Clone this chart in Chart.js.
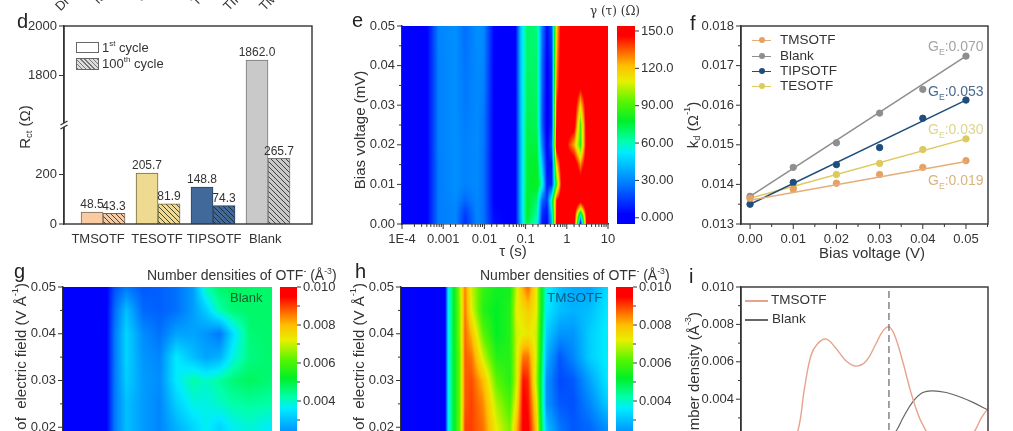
<!DOCTYPE html>
<html>
<head>
<meta charset="utf-8">
<script src="https://cdn.jsdelivr.net/npm/chart.js@4/dist/chart.umd.js"></script>
<style>
html, body { margin: 0; background: #fff; }
body { position: relative; width: 1013px; height: 431px; overflow: hidden; font-family: "Liberation Sans", Arial, sans-serif; color: #333; }
canvas { position: absolute; }
.t { position: absolute; white-space: nowrap; line-height: 1; }
.t sup, .t sub { font-size: 62%; line-height: 0; }
.sw { position: absolute; box-sizing: border-box; }
</style>
</head>
<body>
<script>
// panel d
const groups = ['TMSOTF', 'TESOTF', 'TIPSOTF', 'Blank'];
const groupTickAt = [-0.09, 0.98, 2.02, 2.95]; // labels sit a little off the bar groups in the original
const firstCycle = [48.5, 205.7, 148.8, 1862.0];
const hundredthCycle = [43.3, 81.9, 74.3, 265.7];
const barFills = ['#F9CBA3', '#EFDA92', '#41699A', '#C9C9C9'];
const barEdges = ['#7a6a55', '#6f6a4a', '#2c4560', '#777777'];

// panel e
const taus = [1e-4, 4e-4, 7.8e-4, 2e-3, 3.4e-3, 6.6e-3, 9.5e-3, 0.017, 0.056, 0.075, 0.108, 0.19, 0.25, 0.33, 0.43, 0.57, 0.78, 1.5, 2.15, 3.1, 10];
const biasRows = [0, 0.002, 0.004, 0.006, 0.01, 0.015, 0.02, 0.025, 0.03, 0.035, 0.04, 0.05];
const gammaGrid = [
  [0, 2, 28, 30, 12, 30, 26, 6, 0, 38, 75, 55, 8, 3, 40, 155, 160, 160, 5, 160, 160],
  [0, 2, 28, 30, 14, 30, 26, 5, 0, 40, 78, 62, 12, 5, 45, 150, 160, 160, 50, 160, 160],
  [0, 2, 28, 30, 18, 30, 26, 4, 0, 40, 78, 66, 16, 8, 55, 148, 160, 160, 115, 160, 160],
  [0, 2, 28, 31, 24, 30, 26, 3, 0, 40, 78, 70, 24, 14, 65, 145, 160, 160, 155, 160, 160],
  [0, 2, 28, 32, 29, 31, 26, 3, 0, 40, 76, 80, 60, 8, 10, 90, 160, 160, 160, 160, 160],
  [0, 2, 28, 32, 29, 31, 26, 3, 0, 40, 76, 78, 45, 5, 6, 120, 160, 160, 130, 160, 160],
  [0, 2, 29, 32, 29, 31, 27, 3, 0, 40, 75, 75, 30, 2, 20, 160, 160, 125, 85, 160, 160],
  [0, 2, 29, 32, 28, 31, 27, 3, 0, 41, 74, 72, 22, 0, 10, 150, 160, 155, 90, 160, 160],
  [0, 2, 29, 32, 27, 31, 28, 3, 0, 41, 72, 72, 22, 0, 10, 145, 160, 160, 118, 160, 160],
  [0, 2, 29, 32, 27, 31, 29, 3, 0, 42, 72, 70, 24, 1, 11, 135, 160, 160, 152, 160, 160],
  [0, 2, 29, 32, 26, 31, 30, 3, 0, 42, 70, 70, 24, 2, 12, 130, 160, 160, 160, 160, 160],
  [0, 2, 30, 32, 25, 32, 31, 4, 0, 43, 70, 68, 28, 5, 18, 120, 158, 160, 160, 160, 160]
];
const gammaBar = [-5, 154];
const gammaTicks = [0, 30, 60, 90, 120, 150];
const gammaTickText = ['0.000', '30.00', '60.00', '90.00', '120.0', '150.0'];

// panel f
const biasV = [0, 0.01, 0.02, 0.03, 0.04, 0.05];
const kdTmsotf = [0.01365, 0.01388, 0.01403, 0.01425, 0.01443, 0.0146];
const kdBlank = [0.0137, 0.01443, 0.01505, 0.0158, 0.0164, 0.01724];
const kdTipsotf = [0.0135, 0.01405, 0.0145, 0.01493, 0.01567, 0.01613];
const kdTesotf = [0.01365, 0.01393, 0.01425, 0.01453, 0.01488, 0.01515];
const fitEnds = { TMSOTF: [0.0136, 0.01458], Blank: [0.0137, 0.01724], TIPSOTF: [0.0135, 0.01613], TESOTF: [0.01365, 0.01515] };

// panels g and h, densities in 1e-3 per cubic angstrom
const fieldRows = [0.01, 0.02, 0.025, 0.03, 0.035, 0.04, 0.045, 0.05];
const blankX = [0, 2.07, 2.47, 3.03, 3.83, 4.63, 5.42, 6.22, 6.86, 7.5, 8.13, 8.93, 10];
const blankGrid = [
  [0.3, 0.4, 2, 3.1, 2.6, 2.3, 2.8, 3.2, 3.6, 3.4, 3.6, 3.8, 3.5],
  [0.3, 0.4, 2, 3.0, 2.5, 2.2, 2.8, 3.3, 3.7, 3.3, 3.7, 3.9, 3.6],
  [0.3, 0.4, 2, 3.0, 2.5, 2.2, 3.2, 3.8, 3.8, 4.0, 4.2, 4.3, 4.2],
  [0.3, 0.4, 2, 3.2, 2.5, 2.3, 3.6, 4.2, 4.0, 4.3, 4.6, 4.8, 4.6],
  [0.3, 0.4, 2, 3.3, 2.4, 2.2, 3.6, 3.0, 2.6, 2.8, 3.8, 4.5, 4.7],
  [0.3, 0.4, 2, 3.3, 2.3, 1.9, 2.6, 2.6, 2.4, 2.0, 3.4, 4.6, 4.7],
  [0.3, 0.4, 1.8, 3.0, 1.8, 1.7, 1.9, 2.5, 3.2, 4.2, 4.6, 4.7, 4.7],
  [0.3, 0.4, 1.5, 2.0, 1.6, 1.7, 1.9, 2.5, 4.2, 4.7, 4.8, 4.7, 4.7]
];
const tmsotfX = [0, 2.12, 2.28, 2.52, 2.85, 3.09, 3.41, 3.97, 4.61, 5.26, 5.58, 5.9, 6.14, 6.54, 6.78, 7.03, 7.67, 8.31, 9.12, 10];
const tmsotfGrid = [
  [0.2, 0.2, 3.6, 5, 6.4, 9, 9, 8.6, 7.4, 6.6, 8, 9.6, 9.6, 8, 5, 3, 2, 1.6, 1.6, 2.2],
  [0.2, 0.2, 3.6, 5, 6.4, 9, 9, 8.6, 7.2, 6.4, 8, 9.6, 9.6, 7.8, 5, 3, 2, 1.6, 1.8, 2.4],
  [0.2, 0.2, 3.6, 5, 6.4, 8.8, 9, 8.4, 6.8, 6, 7.4, 9.6, 9.4, 7.4, 4.8, 2.4, 1.6, 1.5, 2.2, 3.2],
  [0.2, 0.2, 3.6, 5, 6.4, 8.8, 8.9, 8, 6.2, 5.6, 7, 9.4, 9.2, 6.8, 4.8, 2.4, 1.4, 1.6, 2.6, 3.6],
  [0.2, 0.2, 3.6, 5, 6.4, 8.8, 8.6, 7, 5.6, 5.6, 7, 8.6, 8.6, 7, 5, 2.8, 1.6, 2.2, 3.2, 3.7],
  [0.2, 0.2, 3.6, 5, 6.6, 8.7, 8, 6.2, 5.2, 5.6, 7, 7.2, 7.4, 7, 5.2, 3.2, 2.4, 2.4, 3.2, 3.7],
  [0.2, 0.2, 3.6, 5, 6.6, 8.6, 7.2, 5.6, 5.2, 5.6, 7.2, 7.5, 7.8, 7.2, 5.4, 3.6, 3, 2.8, 3, 3.6],
  [0.2, 0.2, 3.6, 5, 6.8, 8.5, 7, 5.8, 5.4, 5.4, 7, 8.2, 8.7, 7.2, 5.4, 3.8, 3, 2.7, 2.6, 3.4]
];
const densityTicks = [0, 0.002, 0.004, 0.006, 0.008, 0.01];

// panel i
const tmsotfLineX = [1.28, 1.8, 2.3, 2.57, 2.84, 3.11, 3.45, 3.85, 4.26, 4.66, 5.07, 5.47, 5.74, 5.99, 6.22, 6.55, 6.89, 7.23, 7.5, 8, 8.7, 9.46, 9.73, 10];
const tmsotfLine = [0, 0.0008, 0.0023, 0.00458, 0.00636, 0.00698, 0.00721, 0.00671, 0.00604, 0.00577, 0.00604, 0.00698, 0.00764, 0.00787, 0.00742, 0.006, 0.00431, 0.00298, 0.0023, 0.0012, 0.0011, 0.0023, 0.003, 0.0035];
const blankLineX = [4.8, 5.6, 6.28, 6.55, 6.96, 7.36, 7.77, 8.31, 8.85, 9.39, 10];
const blankLine = [0.0005, 0.0012, 0.0023, 0.00298, 0.00387, 0.00436, 0.00445, 0.00436, 0.00413, 0.00383, 0.00342];
const peakX = 5.99;

const FONT = { family: '"Liberation Sans", Arial, sans-serif', size: 13 };
const INK = '#333';
Chart.defaults.color = INK;
Chart.defaults.font.family = FONT.family;
Chart.defaults.font.size = FONT.size;
Chart.defaults.animation = false;

// rainbow used by the three maps and their bars
const ramp = [
  [0, 0, 0, 255], [0.05, 0, 0, 255], [0.2, 0, 120, 255], [0.36, 0, 235, 255], [0.42, 0, 255, 170],
  [0.52, 0, 240, 40], [0.62, 90, 245, 0], [0.72, 230, 240, 0], [0.8, 255, 190, 0], [0.88, 255, 90, 0], [0.95, 255, 0, 0], [1, 255, 0, 0]
];
function rampColor(t) {
  t = Math.min(1, Math.max(0, t));
  let i = 0;
  while (i < ramp.length - 2 && ramp[i + 1][0] < t) i++;
  const a = ramp[i], b = ramp[i + 1], f = (t - a[0]) / (b[0] - a[0]);
  return [1, 2, 3].map(k => a[k] + (b[k] - a[k]) * f);
}

function locate(list, v) {
  let i = 0;
  while (i < list.length - 2 && list[i + 1] < v) i++;
  return [i, Math.min(1, Math.max(0, (v - list[i]) / (list[i + 1] - list[i])))];
}

// paints the grid under the datasets, every pixel looked up through the chart's scales
function heatPlugin(xs, ys, grid, vmin, vmax) {
  return {
    id: 'heat',
    beforeDatasetsDraw(chart) {
      const { left, top, width, height } = chart.chartArea;
      const sx = chart.scales.x, sy = chart.scales.y;
      const isLog = sx.type === 'logarithmic';
      const lx = isLog ? xs.map(Math.log10) : xs;
      const w = Math.round(width), h = Math.round(height);
      const off = document.createElement('canvas');
      off.width = w; off.height = h;
      const octx = off.getContext('2d');
      const img = octx.createImageData(w, h);
      for (let py = 0; py < h; py++) {
        const [r, fy] = locate(ys, sy.getValueForPixel(top + py + 0.5));
        for (let px = 0; px < w; px++) {
          const xv = sx.getValueForPixel(left + px + 0.5);
          const [c, fx] = locate(lx, isLog ? Math.log10(xv) : xv);
          const low = grid[r][c] * (1 - fx) + grid[r][c + 1] * fx;
          const high = grid[r + 1][c] * (1 - fx) + grid[r + 1][c + 1] * fx;
          const rgb = rampColor((low * (1 - fy) + high * fy - vmin) / (vmax - vmin));
          const o = (py * w + px) * 4;
          img.data[o] = rgb[0]; img.data[o + 1] = rgb[1]; img.data[o + 2] = rgb[2]; img.data[o + 3] = 255;
        }
      }
      octx.putImageData(img, 0, 0);
      chart.ctx.drawImage(off, left, top, width, height);
    }
  };
}

// chart.js has one tick length per axis, so long and short marks are stroked here
function tickMarks(axes, majorLen) {
  const longLen = majorLen || 5;
  return {
    id: 'tickMarks',
    afterDraw(chart) {
      const ctx = chart.ctx;
      ctx.save();
      ctx.strokeStyle = INK;
      ctx.lineWidth = 1;
      Object.keys(axes).forEach(id => {
        const s = chart.scales[id], isMajor = axes[id];
        s.ticks.forEach((tick, i) => {
          const len = isMajor(tick.value) ? longLen : 3;
          const p = s.getPixelForTick(i);
          ctx.beginPath();
          if (id === 'x') { ctx.moveTo(p, s.top); ctx.lineTo(p, s.top + len); }
          else if (s.position === 'right') { ctx.moveTo(s.left, p); ctx.lineTo(s.left + len, p); }
          else { ctx.moveTo(s.right, p); ctx.lineTo(s.right - len, p); }
          ctx.stroke();
        });
      });
      ctx.restore();
    }
  };
}

const frame = {
  id: 'frame',
  afterDatasetsDraw(chart) {
    const a = chart.chartArea, ctx = chart.ctx;
    ctx.save();
    ctx.strokeStyle = INK;
    ctx.lineWidth = 1.4;
    ctx.strokeRect(a.left, a.top, a.width, a.height);
    ctx.restore();
  }
};

const near = list => v => list.some(m => Math.abs(m - v) < 1e-9);
const fixed = list => s => { s.ticks = list.map(value => ({ value })); };

// plot box is given in page pixels, the canvas is grown around it to hold the tick labels.
// top and bottom margins must beat half a label plus ticks.padding or chart.js insets the plot
function panel(box, config, yRight) {
  const m = yRight ? { l: 6, t: 24, r: 60, b: 24 } : { l: 60, t: 24, r: 30, b: box.noX ? 24 : 30 };
  const cv = document.createElement('canvas');
  const W = box.r - box.l + m.l + m.r, H = box.b - box.t + m.t + m.b;
  cv.style.left = (box.l - m.l) + 'px';
  cv.style.top = (box.t - m.t) + 'px';
  cv.style.width = W + 'px';
  cv.style.height = H + 'px';
  cv.width = W; cv.height = H;
  document.body.appendChild(cv);
  const o = config.options;
  o.responsive = false;
  o.plugins = Object.assign({ legend: { display: false }, tooltip: { enabled: false } }, o.plugins);
  o.layout = { padding: { left: yRight ? m.l : 0, top: m.t, right: yRight ? 0 : m.r, bottom: box.noX ? m.b : 0 } };
  o.scales.y.afterFit = s => { s.width = yRight ? m.r : m.l; };
  if (!box.noX) o.scales.x.afterFit = s => { s.height = m.b; };
  return new Chart(cv, config);
}

function yAxis(min, max, list, majors, fmt, extra) {
  return Object.assign({
    min, max,
    afterBuildTicks: fixed(list),
    grid: { display: false, drawTicks: false },
    border: { display: true, color: INK, width: 1.4 },
    ticks: { autoSkip: false, padding: 7, color: INK, callback: v => near(majors)(v) ? fmt(v) : '' }
  }, extra);
}

// panel d, value axis has a break: the stretch 400 to 1600 is cut out
const cut = v => v <= 400 ? v : v - 1200;
const uncut = v => v <= 400 ? v : v + 1200;
function hatch(base) {
  const p = document.createElement('canvas');
  p.width = p.height = 5;
  const c = p.getContext('2d');
  c.fillStyle = base;
  c.fillRect(0, 0, 5, 5);
  c.strokeStyle = 'rgba(30,30,30,0.8)';
  c.lineWidth = 1;
  c.beginPath();
  c.moveTo(-1, -1); c.lineTo(6, 6);
  c.moveTo(-1, 4); c.lineTo(1, 6);
  c.moveTo(4, -1); c.lineTo(6, 1);
  c.stroke();
  return document.createElement('canvas').getContext('2d').createPattern(p, 'repeat');
}
const barLabels = {
  id: 'barLabels',
  afterDatasetsDraw(chart) {
    const ctx = chart.ctx;
    ctx.save();
    ctx.font = '12px ' + FONT.family;
    ctx.fillStyle = INK;
    ctx.textAlign = 'center';
    ctx.textBaseline = 'bottom';
    chart.data.datasets.forEach((ds, d) => {
      chart.getDatasetMeta(d).data.forEach((bar, i) => {
        ctx.fillText(ds.values[i].toFixed(1), bar.x, bar.y - 1);
      });
    });
    ctx.restore();
  }
};
const axisBreak = {
  id: 'axisBreak',
  afterDraw(chart) {
    const s = chart.scales.y, y = s.getPixelForValue(400), x = s.right, ctx = chart.ctx;
    ctx.save();
    ctx.fillStyle = '#fff';
    ctx.fillRect(x - 3, y - 2, 6, 4);
    ctx.strokeStyle = INK;
    ctx.lineWidth = 1.2;
    [-2, 2].forEach(dy => {
      ctx.beginPath();
      ctx.moveTo(x - 3.5, y + dy + 2);
      ctx.lineTo(x + 3.5, y + dy - 2);
      ctx.stroke();
    });
    ctx.restore();
  }
};
const toBars = (values, key) => ({
  label: key,
  values,
  data: values.map((v, i) => ({ x: i, y: cut(v) })),
  barThickness: 22,
  borderWidth: 1
});
panel({ l: 64, t: 26, r: 312, b: 224 }, {
  type: 'bar',
  data: {
    datasets: [
      Object.assign(toBars(firstCycle, '1st cycle'), { backgroundColor: barFills, borderColor: barEdges }),
      Object.assign(toBars(hundredthCycle, '100th cycle'), { backgroundColor: barFills.map(hatch), borderColor: barEdges })
    ]
  },
  options: {
    scales: {
      x: {
        type: 'linear', min: -0.71, max: 3.8, offset: false,
        afterBuildTicks: fixed(groupTickAt),
        grid: { display: false, drawTicks: false, offset: false },
        border: { display: false },
        ticks: { autoSkip: false, maxRotation: 0, padding: 8, color: INK, callback: v => groups[groupTickAt.indexOf(v)] }
      },
      y: yAxis(0, 800, [0, 200, 600, 800], [0, 200, 600, 800], v => String(uncut(v)))
    }
  },
  plugins: [frame, barLabels, axisBreak, tickMarks({ y: () => true })]
});

// panel e
const eDecades = { '-4': '1E-4', '-3': '0.001', '-2': '0.01', '-1': '0.1', '0': '1', '1': '10' };
const isDecade = v => Math.abs(Math.log10(v) - Math.round(Math.log10(v))) < 1e-6;
panel({ l: 402, t: 26, r: 608, b: 224 }, {
  type: 'scatter',
  data: { datasets: [{ data: [], pointRadius: 0 }] },
  options: {
    scales: {
      x: {
        type: 'logarithmic', min: 1e-4, max: 10,
        grid: { display: false, drawTicks: false },
        border: { display: true, color: INK, width: 1.4 },
        ticks: { autoSkip: false, maxRotation: 0, padding: 8, color: INK, callback: v => isDecade(v) ? eDecades[Math.round(Math.log10(v))] : '' }
      },
      y: yAxis(0, 0.05,
        [0, 0.005, 0.01, 0.015, 0.02, 0.025, 0.03, 0.035, 0.04, 0.045, 0.05],
        [0, 0.01, 0.02, 0.03, 0.04, 0.05], v => v.toFixed(2))
    }
  },
  plugins: [heatPlugin(taus, biasRows, gammaGrid, -5, 154), tickMarks({ x: isDecade, y: near([0, 0.01, 0.02, 0.03, 0.04, 0.05]) })]
});

// colour bars
function colorBar(box, low, high, list, majors, fmt) {
  const y = yAxis(low, high, list, majors, fmt, { position: 'right', border: { display: false } });
  y.ticks.padding = 6;
  panel(Object.assign({ noX: true }, box), {
    type: 'scatter',
    data: { datasets: [{ data: [], pointRadius: 0 }] },
    options: { scales: { x: { display: false, min: 0, max: 1 }, y } },
    plugins: [heatPlugin([0, 1], [low, high], [[low, low], [high, high]], low, high), tickMarks({ y: near(majors) }, 4)]
  }, true);
}
colorBar({ l: 617, t: 26, r: 635, b: 224 }, gammaBar[0], gammaBar[1], gammaTicks, gammaTicks,
  v => gammaTickText[gammaTicks.indexOf(v)]);

const densityMinor = [0, 0.001, 0.002, 0.003, 0.004, 0.005, 0.006, 0.007, 0.008, 0.009, 0.01];
colorBar({ l: 280, t: 287, r: 297, b: 477 }, 0, 0.01, densityMinor, densityTicks, v => v.toFixed(3));
colorBar({ l: 616, t: 287, r: 633, b: 477 }, 0, 0.01, densityMinor, densityTicks, v => v.toFixed(3));

// panels g and h, bottom of both runs past the window
const fieldTicks = [0.01, 0.015, 0.02, 0.025, 0.03, 0.035, 0.04, 0.045, 0.05];
const fieldMajor = [0.01, 0.02, 0.03, 0.04, 0.05];
function densityMap(box, xs, grid) {
  panel(box, {
    type: 'scatter',
    data: { datasets: [{ data: [], pointRadius: 0 }] },
    options: {
      scales: {
        x: { min: 0, max: 10, display: false },
        y: yAxis(0.01, 0.05, fieldTicks, fieldMajor, v => v.toFixed(2))
      }
    },
    plugins: [heatPlugin(xs, fieldRows, grid, 0, 10), tickMarks({ y: near(fieldMajor) })]
  });
}
densityMap({ l: 63, t: 287, r: 272, b: 474, noX: true }, blankX, blankGrid);
densityMap({ l: 401, t: 287, r: 608, b: 474, noX: true }, tmsotfX, tmsotfGrid);

// panel f
const xy = (xs, ys) => xs.map((x, i) => ({ x, y: ys[i] }));
const fSeries = [
  ['TMSOTF', kdTmsotf, '#E5A163', '#E6AE78'],
  ['Blank', kdBlank, '#8E8E8E', '#8E8E8E'],
  ['TIPSOTF', kdTipsotf, '#1F4E7C', '#1F4E7C'],
  ['TESOTF', kdTesotf, '#DCCB5C', '#DFC85C']
];
const fSets = [];
fSeries.forEach(([name, ys, dot, line]) => {
  fSets.push({ label: name + ' fit', data: xy([0, 0.05], fitEnds[name]), showLine: true, borderColor: line, borderWidth: 1.5, pointRadius: 0 });
  fSets.push({ label: name, data: xy(biasV, ys), backgroundColor: dot, borderColor: dot, pointRadius: 3.2 });
});
const fTicksY = [0.013, 0.0135, 0.014, 0.0145, 0.015, 0.0155, 0.016, 0.0165, 0.017, 0.0175, 0.018];
const fMajorY = [0.013, 0.014, 0.015, 0.016, 0.017, 0.018];
const fTicksX = [0, 0.005, 0.01, 0.015, 0.02, 0.025, 0.03, 0.035, 0.04, 0.045, 0.05, 0.055];
panel({ l: 741, t: 26, r: 988, b: 224 }, {
  type: 'scatter',
  data: { datasets: fSets },
  options: {
    scales: {
      x: {
        min: -0.0021, max: 0.0551,
        afterBuildTicks: fixed(fTicksX),
        grid: { display: false, drawTicks: false },
        border: { display: false },
        ticks: { autoSkip: false, maxRotation: 0, padding: 8, color: INK, callback: v => near(biasV)(v) ? v.toFixed(2) : '' }
      },
      y: yAxis(0.013, 0.018, fTicksY, fMajorY, v => v.toFixed(3))
    }
  },
  plugins: [frame, tickMarks({ x: near(biasV), y: near(fMajorY) })]
});

// panel i
panel({ l: 741, t: 287, r: 988, b: 474, noX: true }, {
  type: 'scatter',
  data: {
    datasets: [
      { label: 'peak', data: xy([peakX, peakX], [0, 0.01]), showLine: true, borderColor: '#666', borderWidth: 1.2, borderDash: [7, 4], pointRadius: 0 },
      { label: 'TMSOTF', data: xy(tmsotfLineX, tmsotfLine), showLine: true, tension: 0.4, borderColor: '#E7A48C', borderWidth: 1.4, pointRadius: 0 },
      { label: 'Blank', data: xy(blankLineX, blankLine), showLine: true, tension: 0.4, borderColor: '#666', borderWidth: 1.2, pointRadius: 0 }
    ]
  },
  options: {
    scales: {
      x: { min: 0, max: 10, display: false },
      y: yAxis(0, 0.01, densityMinor, densityTicks, v => v.toFixed(3))
    }
  },
  plugins: [frame, tickMarks({ y: near(densityTicks) })]
});

// text that needs sub or superscripts, and the inset legends
function text(html, x, y, opt) {
  opt = opt || {};
  const d = document.createElement('div');
  d.className = 't';
  d.innerHTML = html;
  d.style.left = x + 'px';
  d.style.top = y + 'px';
  d.style.fontSize = (opt.size || 13) + 'px';
  if (opt.color) d.style.color = opt.color;
  if (opt.family) d.style.fontFamily = opt.family;
  if (opt.vertical) {
    d.style.writingMode = 'vertical-rl';
    d.style.transform = opt.endAt ? 'translateX(-50%) rotate(180deg)' : 'translate(-50%,-50%) rotate(180deg)';
  } else if (opt.rotate) {
    d.style.transformOrigin = '0 100%';
    d.style.transform = 'translateY(-100%) rotate(' + opt.rotate + 'deg)';
  } else {
    d.style.transform = opt.center ? 'translate(-50%,-50%)' : 'translateY(-50%)';
  }
  document.body.appendChild(d);
}
function swatch(x, y, w, h, css) {
  const d = document.createElement('div');
  d.className = 'sw';
  d.style.cssText = 'left:' + x + 'px;top:' + y + 'px;width:' + w + 'px;height:' + h + 'px;' + css;
  document.body.appendChild(d);
}

// clipped labels of the row above
[['Dr', 54, 13], ['M', 92, 6], ['J', 135, 3], ['TE', 190, 8], ['TIP', 222, 13], ['TM', 258, 13]].forEach(([s, x, y]) => {
  text(s, x + 8, y, { rotate: -45 });
});

[['d', 17, 21], ['e', 352, 20], ['f', 690, 23], ['g', 14, 271], ['h', 355, 271], ['i', 689, 276]].forEach(([s, x, y]) => {
  text(s, x, y, { size: 20, color: '#222' });
});

text('R<sub>ct</sub> (Ω)', 24, 127, { size: 15, vertical: true });
text('Bias voltage (mV)', 359, 130, { size: 15, vertical: true });
text('k<sub>d</sub> (Ω<sup>-1</sup>)', 692, 125, { size: 15, vertical: true });
text('τ (s)', 513, 250, { size: 15, center: true });
text('Bias voltage (V)', 872, 252, { size: 15, center: true });
text('γ (τ) (Ω)', 615, 11, { size: 12, center: true, family: '"DejaVu Serif", serif' });

const otfTitle = 'Number densities of OTF<sup>-</sup> (Å<sup>-3</sup>)';
text(otfTitle, 147, 275, { size: 14 });
text(otfTitle, 480, 275, { size: 14 });
text('Blank', 230, 297, { size: 13, color: '#14602f' });
text('TMSOTF', 547, 298, { size: 13.5, color: '#0d5a78' });
const fieldTitle = 'Intensity of&nbsp; electric field (V Å<sup>-1</sup>)';
text(fieldTitle, 20, 283, { size: 15, vertical: true, endAt: true });
text(fieldTitle, 358, 283, { size: 15, vertical: true, endAt: true });
text('Number density (Å<sup>-3</sup>)', 693, 312, { size: 15, vertical: true, endAt: true });

// d legend
swatch(76, 42, 23, 11, 'border:1px solid #666;background:#fff');
swatch(76, 58, 23, 12, 'border:1px solid #666;background:repeating-linear-gradient(45deg,#777 0 1px,#ddd 1px 3px)');
text('1<sup>st</sup> cycle', 102, 47);
text('100<sup>th</sup> cycle', 102, 63);

// f legend
fSeries.forEach(([name, , dot, line], i) => {
  const y = [40, 56, 71, 86][i];
  swatch(752, y - 0.5, 19, 1.5, 'background:' + line);
  swatch(758.5, y - 3, 6, 6, 'border-radius:50%;background:' + dot);
  text(name, 780, y, { size: 13.5 });
});
text('G<sub>E</sub>:0.070', 928, 46, { size: 14, color: '#a4a4a4' });
text('G<sub>E</sub>:0.053', 928, 91, { size: 14, color: '#4a6b8c' });
text('G<sub>E</sub>:0.030', 928, 129, { size: 14, color: '#DDD690' });
text('G<sub>E</sub>:0.019', 928, 180, { size: 14, color: '#D9B47E' });

// i legend
swatch(745, 300, 23, 1.5, 'background:#E7A48C');
swatch(745, 319, 23, 1.5, 'background:#666');
text('TMSOTF', 771, 300, { size: 13.5 });
text('Blank', 772, 319, { size: 13.5 });
</script>
</body>
</html>
